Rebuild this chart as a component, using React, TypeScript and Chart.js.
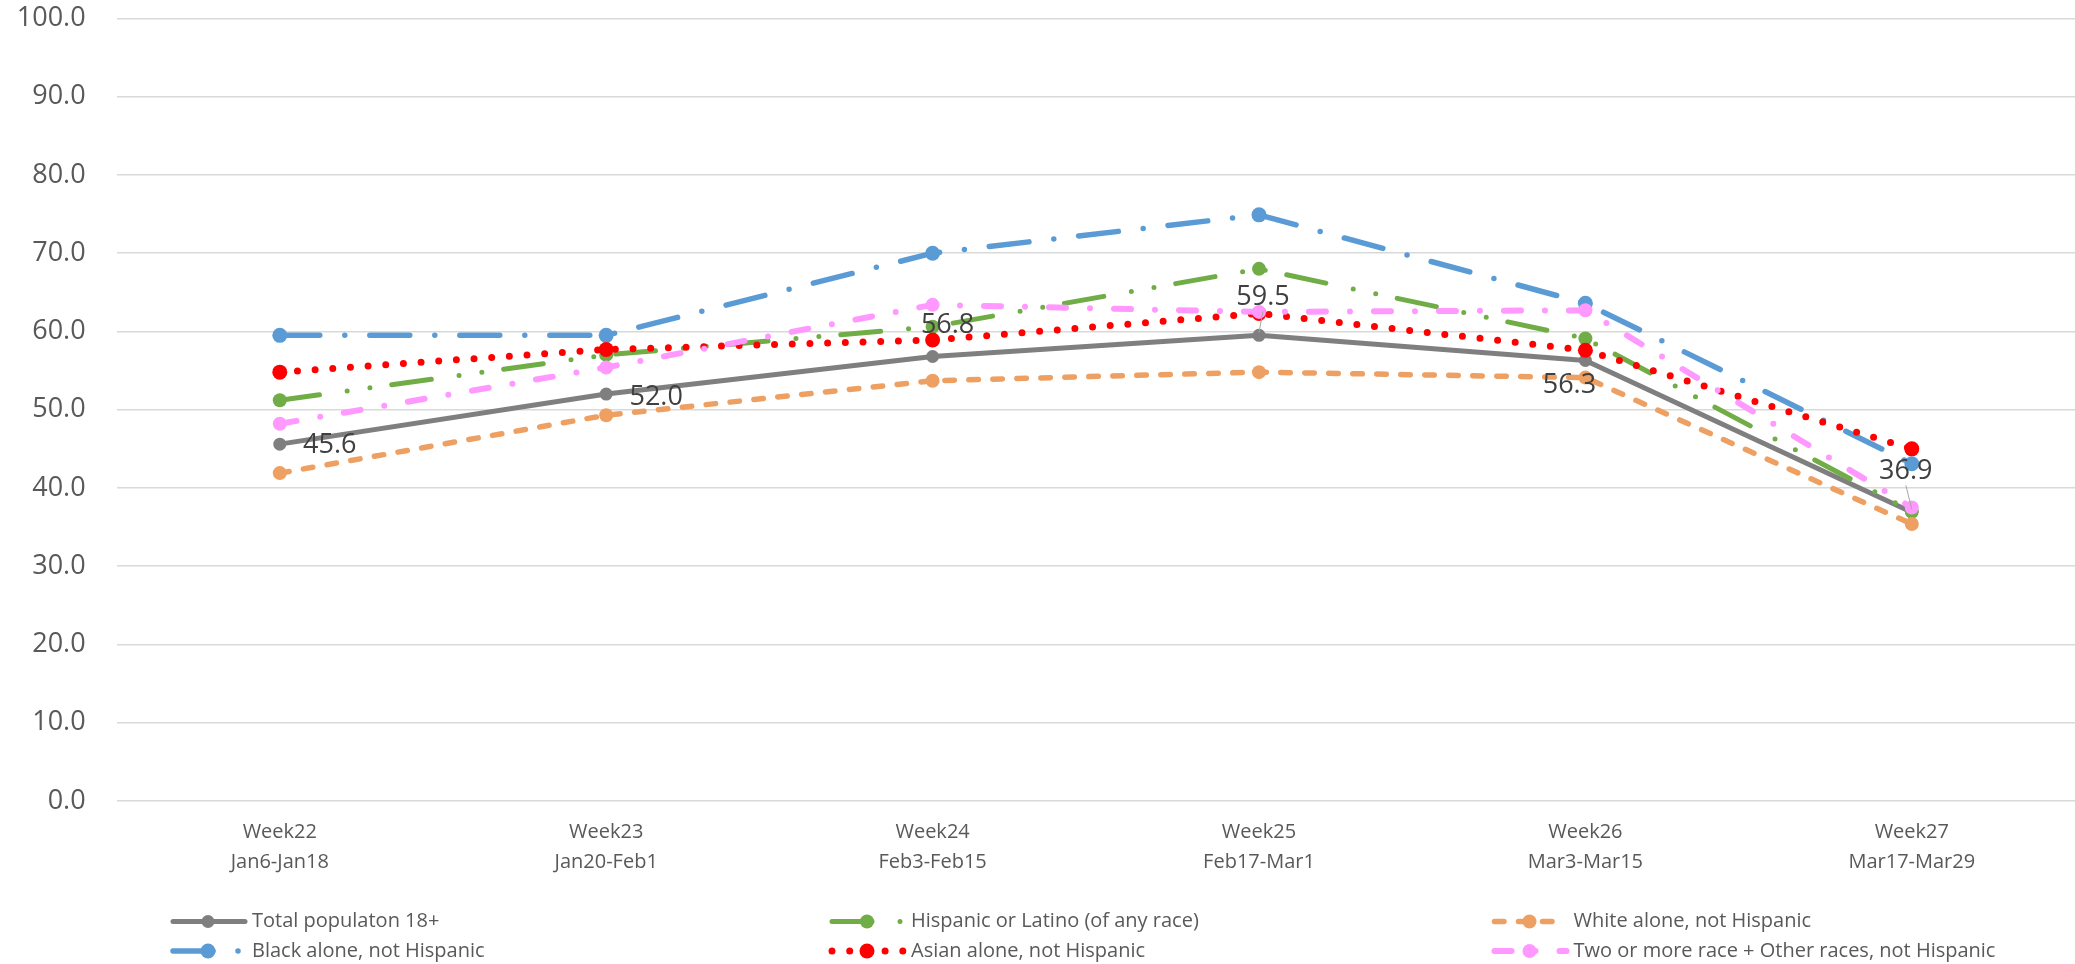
import React, { useEffect, useRef } from "react";
import { Chart, registerables } from "chart.js";

Chart.register(...registerables);

const categories: string[][] = [
  ["Week22", "Jan6-Jan18"],
  ["Week23", "Jan20-Feb1"],
  ["Week24", "Feb3-Feb15"],
  ["Week25", "Feb17-Mar1"],
  ["Week26", "Mar3-Mar15"],
  ["Week27", "Mar17-Mar29"],
];

const totalPop = [45.6, 52.0, 56.8, 59.5, 56.3, 36.9];
const hispanic = [51.2, 57.0, 60.6, 68.0, 59.1, 37.0];
const white = [41.9, 49.3, 53.7, 54.8, 54.1, 35.4];
const black = [59.5, 59.5, 70.0, 74.9, 63.6, 43.1];
const asian = [54.8, 57.7, 58.9, 62.3, 57.6, 45.0];
const twoOrMore = [48.2, 55.4, 63.4, 62.5, 62.7, 37.5];

const seriesNames = [
  "Total populaton 18+",
  "Hispanic or Latino (of any race)",
  "White alone, not Hispanic",
  "Black alone, not Hispanic",
  "Asian alone, not Hispanic",
  "Two or more race + Other races, not Hispanic",
];

const yTicks = [0, 10, 20, 30, 40, 50, 60, 70, 80, 90, 100];

const FONT = "'Open Sans', 'Noto Sans', sans-serif";

// label offsets for total population data labels (dx, dy, leader line)
const labelOffsets = [
  { dx: 50, dy: 1, leader: false },
  { dx: 50, dy: 3, leader: false },
  { dx: 15, dy: -31, leader: false },
  { dx: 4, dy: -38, leader: true },
  { dx: -16, dy: 25, leader: false },
  { dx: -6, dy: -41, leader: true },
];

const dataLabelPlugin = {
  id: "dataLabels",
  afterDatasetsDraw(chart: any) {
    const meta = chart.getDatasetMeta(0);
    const ctx = chart.ctx;
    ctx.save();
    ctx.font = `27px ${FONT}`;
    ctx.fillStyle = "#404040";
    ctx.textAlign = "center";
    ctx.textBaseline = "middle";
    meta.data.forEach((pt: any, i: number) => {
      const o = labelOffsets[i];
      const lx = pt.x + o.dx;
      const ly = pt.y + o.dy;
      if (o.leader) {
        ctx.save();
        ctx.strokeStyle = "#A6A6A6";
        ctx.lineWidth = 1;
        ctx.beginPath();
        ctx.moveTo(lx, ly + 14);
        ctx.lineTo(pt.x, pt.y - 3);
        ctx.stroke();
        ctx.restore();
      }
      ctx.fillText(totalPop[i].toFixed(1), lx, ly);
    });
    ctx.restore();
  },
};

const legendCols = [208, 867, 1529.5];
const legendRows = [921.5, 951];

const customLegendPlugin = {
  id: "customLegend",
  afterDraw(chart: any) {
    const ctx = chart.ctx;
    ctx.save();
    chart.data.datasets.forEach((ds: any, i: number) => {
      const col = i % 3;
      const row = Math.floor(i / 3);
      const mx = legendCols[col];
      const my = legendRows[row];
      ctx.save();
      ctx.strokeStyle = ds.borderColor;
      ctx.lineWidth = ds.borderWidth;
      ctx.lineCap = ds.borderCapStyle || "butt";
      ctx.setLineDash(ds.borderDash || []);
      ctx.beginPath();
      ctx.moveTo(mx - 35, my);
      ctx.lineTo(mx + 37, my);
      ctx.stroke();
      ctx.setLineDash([]);
      ctx.fillStyle = ds.pointBackgroundColor;
      ctx.beginPath();
      ctx.arc(mx, my, ds.pointRadius, 0, Math.PI * 2);
      ctx.fill();
      ctx.restore();
      ctx.font = `20px ${FONT}`;
      ctx.fillStyle = "#595959";
      ctx.textAlign = "left";
      ctx.textBaseline = "middle";
      ctx.fillText(seriesNames[i], mx + 44, my);
    });
    ctx.restore();
  },
};

export default function App() {
  const ref = useRef<HTMLCanvasElement | null>(null);

  useEffect(() => {
    if (!ref.current) return;
    const mk = (
      label: string,
      data: number[],
      color: string,
      width: number,
      dash: number[],
      cap: string,
      radius: number,
      order: number
    ) => ({
      label,
      data,
      borderColor: color,
      backgroundColor: color,
      pointBackgroundColor: color,
      pointBorderColor: color,
      pointBorderWidth: 0,
      pointRadius: radius,
      borderWidth: width,
      borderDash: dash,
      borderCapStyle: cap,
      borderJoinStyle: "round",
      tension: 0,
      fill: false,
      order,
    });

    const chart = new Chart(ref.current, {
      type: "line",
      data: {
        labels: categories,
        datasets: [
          mk(seriesNames[0], totalPop, "#7F7F7F", 5, [], "round", 6.5, 6),
          mk(seriesNames[1], hispanic, "#70AD47", 5, [40, 28, 0, 23, 0, 22], "round", 7, 5),
          mk(seriesNames[2], white, "#EEA062", 5.5, [9.5, 14.5], "round", 7, 4),
          mk(seriesNames[3], black, "#5B9BD5", 5.5, [40, 25, 0, 25], "round", 7.5, 3),
          mk(seriesNames[4], asian, "#FF0000", 7, [0, 17.7], "round", 7.5, 2),
          mk(seriesNames[5], twoOrMore, "#FF99FF", 6, [17, 24, 0, 24], "round", 7, 1),
        ] as any,
      },
      options: {
        animation: false,
        responsive: false,
        maintainAspectRatio: false,
        layout: { autoPadding: false, padding: { top: 18.4, bottom: 87, left: 0, right: -2 } },
        plugins: {
          legend: { display: false },
          tooltip: { enabled: false },
        },
        scales: {
          x: {
            type: "category",
            offset: true,
            grid: { display: false, drawTicks: false },
            border: { display: false },
            ticks: {
              color: "#595959",
              font: { family: FONT, size: 20, lineHeight: 1.5 },
              padding: 16,
              maxRotation: 0,
              autoSkip: false,
            },
            afterFit(scale: any) {
              scale.height = 76;
              scale.paddingLeft = 0;
              scale.paddingRight = 0;
              scale.paddingTop = 0;
              scale.paddingBottom = 0;
            },
          },
          y: {
            min: 0,
            max: 100,
            afterBuildTicks(scale: any) {
              scale.ticks = yTicks.map((v) => ({ value: v }));
            },
            grid: { color: "#D9D9D9", lineWidth: 1.5, drawTicks: false },
            border: { display: false },
            ticks: {
              color: "#595959",
              font: { family: FONT, size: 27 },
              padding: 31,
              callback: (v: any) => Number(v).toFixed(1),
            },
            afterFit(scale: any) {
              scale.width = 116.6;
              scale.paddingTop = 0;
              scale.paddingBottom = 0;
              scale.paddingLeft = 0;
              scale.paddingRight = 0;
            },
          },
        },
      },
      plugins: [dataLabelPlugin, customLegendPlugin],
    } as any);
    return () => chart.destroy();
  }, []);

  return (
    <div style={{ position: "fixed", left: 0, top: 0, width: 2075, height: 964, background: "#fff" }}>
      <canvas ref={ref} width={2075} height={964} style={{ width: 2075, height: 964 }} />
    </div>
  );
}
